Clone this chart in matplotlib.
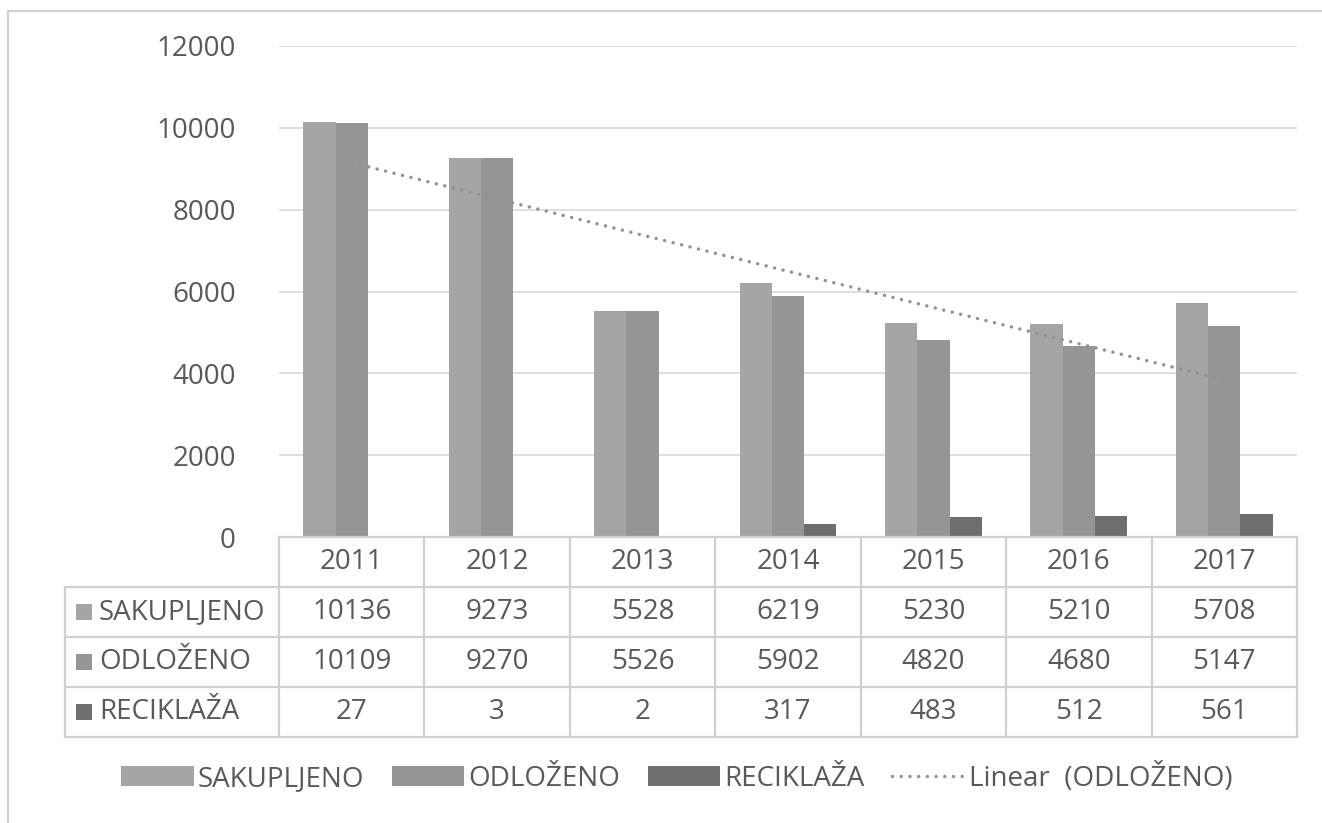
import numpy as np
import matplotlib.pyplot as plt
from matplotlib.patches import Rectangle
from matplotlib.lines import Line2D

plt.rcParams['font.family'] = ['Open Sans', 'DejaVu Sans']

# podaci
godine = ['2011', '2012', '2013', '2014', '2015', '2016', '2017']
sakupljeno = [10136, 9273, 5528, 6219, 5230, 5210, 5708]
odlozeno = [10109, 9270, 5526, 5902, 4820, 4680, 5147]
reciklaza = [27, 3, 2, 317, 483, 512, 561]
nazivi = ['SAKUPLJENO', 'ODLOŽENO', 'RECIKLAŽA']
boje = ['#a5a5a5', '#959595', '#6e6e6e']
serije = [sakupljeno, odlozeno, reciklaza]

W, H = 1322, 823
tekst = '#595959'
linija = '#d0d0d0'
fs = 20

fig = plt.figure(figsize=(W / 100, H / 100), dpi=100)
fig.patch.set_facecolor('white')

# okvir grafikona
fig.add_artist(Rectangle((8 / W, -0.05), 1.1, (H - 11) / H + 0.05,
                         transform=fig.transFigure, fill=False,
                         edgecolor='#d0d0d0', linewidth=1.5))

# podrucje crtanja u pikselima: 279..1297 x 46..537
x0, x1, ytop, ybot = 279, 1297, 46, 537
ax = fig.add_axes([x0 / W, 1 - ybot / H, (x1 - x0) / W, (ybot - ytop) / H])

n = len(godine)
x = np.arange(n)
sirina = 0.222
for i, (vals, boja, naziv) in enumerate(zip(serije, boje, nazivi)):
    ax.bar(x + (i - 1) * sirina, vals, width=sirina, color=boja,
           label=naziv, zorder=2)

# linearni trend za ODLOZENO
k, b = np.polyfit(x, odlozeno, 1)
ax.plot(x, k * x + b, linestyle=(0, (0.01, 2.5)), dash_capstyle='round',
        color='#929292', linewidth=2.5, zorder=3, label='Linear  (ODLOŽENO)')

ax.set_xlim(-0.5, n - 0.5)
ax.set_ylim(0, 12000)
ax.set_yticks(np.arange(0, 12001, 2000))
ax.yaxis.grid(True, color='#d9d9d9', linewidth=1.2, zorder=0)
ax.set_axisbelow(True)
ax.set_xticks([])
for s in ax.spines.values():
    s.set_visible(False)
ax.tick_params(axis='y', length=0, pad=31, labelsize=fs, labelcolor=tekst)

# tablica podataka ispod osi
red = 50 / (ybot - ytop)          # visina reda u udjelu osi
trans = ax.get_xaxis_transform()
kol = (x1 - x0) / n               # sirina stupca u pikselima
lijevo = (65 - x0) / kol - 0.5
lw = 1.6

def hline(y, xa, xb):
    ax.add_line(Line2D([xa, xb], [y, y], transform=trans, color=linija,
                       linewidth=lw, clip_on=False, zorder=4))

def vline(xv, ya, yb):
    ax.add_line(Line2D([xv, xv], [ya, yb], transform=trans, color=linija,
                       linewidth=lw, clip_on=False, zorder=4))

hline(0, -0.5, n - 0.5)
for r in range(1, 5):
    hline(-r * red, lijevo, n - 0.5)
for g in range(n + 1):
    vline(g - 0.5, 0, -4 * red)
vline(lijevo, -red, -4 * red)

for g, god in enumerate(godine):
    ax.text(g, -0.5 * red, god, transform=trans, ha='center', va='center',
            fontsize=fs, color=tekst)

for r, (vals, boja, naziv) in enumerate(zip(serije, boje, nazivi)):
    yc = -(r + 1.5) * red
    ax.add_patch(Rectangle((lijevo + 11 / kol, yc - 8 / (ybot - ytop)),
                           16 / kol, 16 / (ybot - ytop), transform=trans,
                           facecolor=boja, edgecolor='none', clip_on=False))
    ax.text(lijevo + 34 / kol, yc, naziv, transform=trans,
            ha='left', va='center', fontsize=fs, color=tekst)
    for g, v in enumerate(vals):
        ax.text(g, yc, str(v), transform=trans, ha='center', va='center',
                fontsize=fs, color=tekst)

# legenda: stupci pa trend
h, l = ax.get_legend_handles_labels()
h = h[1:] + h[:1]
l = l[1:] + l[:1]
fig.legend(h, l, loc='center', bbox_to_anchor=(0.512, 1 - 778 / H), ncol=4,
           frameon=False, fontsize=fs, labelcolor=tekst, handlelength=2.6,
           handleheight=0.75, handletextpad=0.15, columnspacing=1.0)

fig.savefig('out.png', dpi=100, facecolor='white')
